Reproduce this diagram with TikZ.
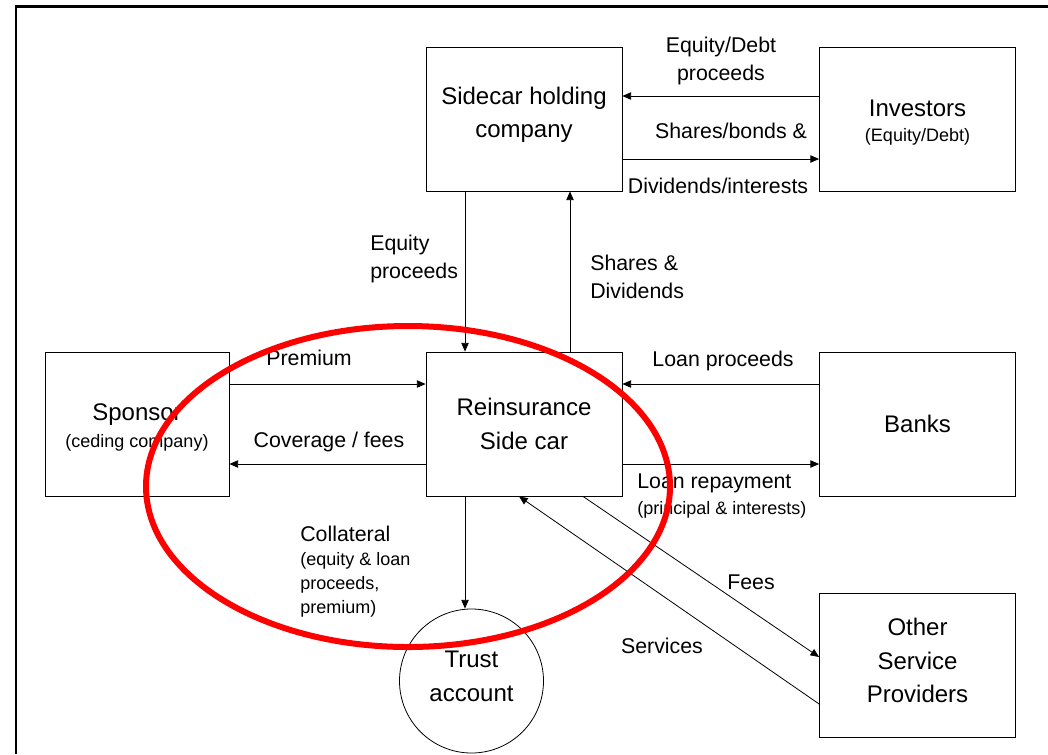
\documentclass[tikz,border=0pt]{standalone}
\usepackage{fontspec}
\setmainfont{Liberation Sans}
\usetikzlibrary{arrows.meta}
\newcommand{\smalltxt}{\fontsize{13.5}{18.5}\selectfont}
\newcommand{\labtxt}{\fontsize{16}{21.5}\selectfont}
\newcommand{\boxtxt}{\fontsize{18}{25}\selectfont}

\begin{document}
\begin{tikzpicture}[x=0.75pt,y=0.75pt,yscale=-1,xscale=1,
    box/.style={draw, line width=0.6pt, minimum width=147pt, minimum height=108pt, align=center, font=\boxtxt, inner sep=2pt},
    lab/.style={align=center, font=\labtxt, inner sep=0pt},
    flow/.style={-{Triangle[length=6.5pt,width=5.5pt]}, line width=0.6pt}]
    \useasboundingbox (0,0) rectangle (1048,754);
    %page frame
    \draw [line width=2.2pt] (16,754) -- (16,6.5) -- (1048,6.5);

    %boxes
    \node [box] (hold) at (524,119) {Sidecar holding\\company\\[-15pt]\mbox{}};
    \node [box] (inv) at (917.5,119) {\mbox{}\\[-7pt]Investors\\[-6pt]{\smalltxt (Equity/Debt)}};
    \node [box, minimum width=138pt] (spon) at (137,424) {\mbox{}\\[-7pt]Sponsor\\[-5pt]{\smalltxt (ceding company)}};
    \node [box] (rsc) at (524,424) {Reinsurance\\Side car};
    \node [box] (bank) at (917.5,424) {Banks};
    \node [box] (osp) at (917.5,665) {Other\\Service\\Providers\\[-18pt]\mbox{}};
    \node [draw, circle, line width=0.6pt, minimum size=108pt, inner sep=0pt, align=center, font=\boxtxt] (trust) at (471.5,681) {Trust\\account\\[-18pt]\mbox{}};

    %rows and columns of the connectors
    \coordinate (rowEq) at (0,96);
    \coordinate (rowSh) at (0,159);
    \coordinate (rowPrem) at (0,384);
    \coordinate (rowCov) at (0,464);
    \coordinate (rowFee) at (0,657);
    \coordinate (rowSrv) at (0,704);
    \coordinate (colEq) at (465,0);
    \coordinate (colSh) at (570,0);
    \coordinate (colFee) at (583,0);
    \coordinate (colSrv) at (519,0);

    \draw [flow] (inv.west |- rowEq) -- (hold.east |- rowEq);
    \draw [flow] (hold.east |- rowSh) -- (inv.west |- rowSh);
    \draw [flow] (hold.south -| colEq) -- (rsc.north -| colEq);
    \draw [flow] (rsc.north -| colSh) -- (hold.south -| colSh);
    \draw [flow] (spon.east |- rowPrem) -- (rsc.west |- rowPrem);
    \draw [flow] (rsc.west |- rowCov) -- (spon.east |- rowCov);
    \draw [flow] (bank.west |- rowPrem) -- (rsc.east |- rowPrem);
    \draw [flow] (rsc.east |- rowCov) -- (bank.west |- rowCov);
    \draw [flow] (rsc.south -| colEq) -- (trust.north -| colEq);
    \draw [flow] (rsc.south -| colFee) -- (osp.west |- rowFee);
    \draw [flow] (osp.west |- rowSrv) -- (rsc.south -| colSrv);

    %labels
    \node [lab] (lEqDebt) at (721,61) {Equity/Debt\\proceeds};
    \node [lab] (lShBo) at (731,131) {Shares/bonds \&};
    \node [lab] (lDiv) at (718,186) {Dividends/interests};
    \node [lab, align=left, anchor=west] (lEqPr) at (370,259) {Equity\\proceeds};
    \node [lab, align=left, anchor=west] (lShDiv) at (590,277) {Shares \&\\Dividends};
    \node [lab] (lPrem) at (309,358) {Premium};
    \node [lab] (lCov) at (329,442) {Coverage / fees};
    \node [lab] (lLoanP) at (723,361) {Loan proceeds};
    \node [lab, align=left, anchor=west] (lLoanR) at (637,496) {Loan repayment\\[-2.5pt]{\smalltxt (principal \& interests)}};
    \node [lab, align=left, anchor=west] (lColl) at (300,572) {Collateral\\[-3.5pt]{\smalltxt (equity \& loan}\\[-3.5pt]{\smalltxt proceeds,}\\[-3.5pt]{\smalltxt premium)}};
    \node [lab] (lFees) at (751,582) {Fees};
    \node [lab] (lSrv) at (662,646) {Services};

    %highlight
    \draw [color={rgb, 255:red, 255; green, 0; blue, 0}, line width=4.5pt] (408,486.5) circle [x radius=262, y radius=160.5];
\end{tikzpicture}
\end{document}
